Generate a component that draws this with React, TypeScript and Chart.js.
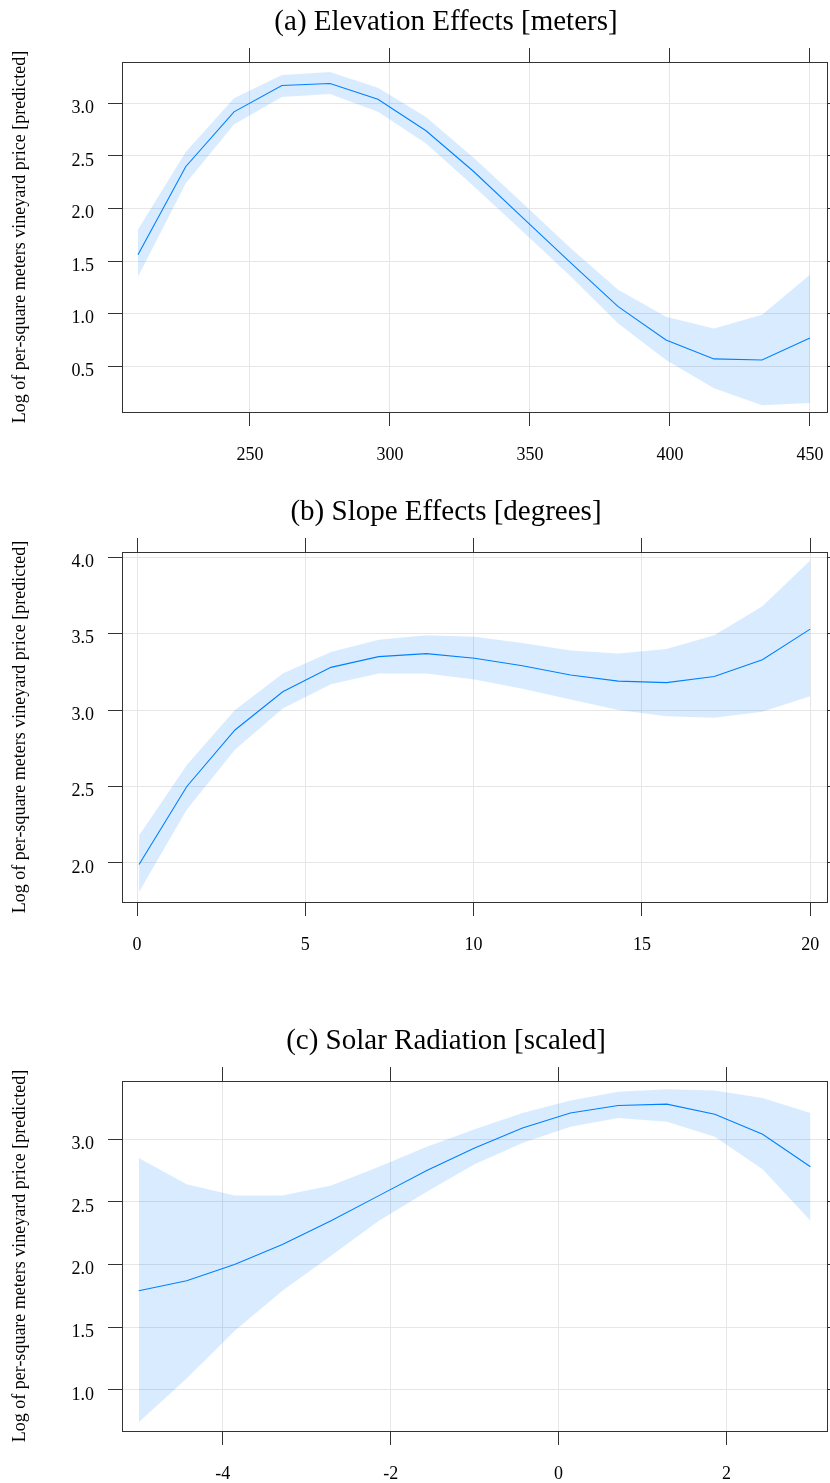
import React, { useEffect, useRef } from "react";
import { Chart, registerables } from "chart.js";

Chart.register(...registerables);

const FONT = "'Liberation Serif', 'Times New Roman', serif";
const Y_LABEL = "Log of per-square meters vineyard price [predicted]";

// (a) Elevation
const elevX = [210.0, 227.1, 244.3, 261.4, 278.6, 295.7, 312.9, 330.0, 347.1, 364.3, 381.4, 398.6, 415.7, 432.9, 450.0];
const elevFit = [1.56, 2.40, 2.92, 3.17, 3.19, 3.04, 2.74, 2.35, 1.92, 1.49, 1.07, 0.75, 0.57, 0.56, 0.77];
const elevUpper = [1.80, 2.54, 3.05, 3.27, 3.30, 3.15, 2.87, 2.48, 2.06, 1.63, 1.23, 0.97, 0.86, 0.99, 1.37];
const elevLower = [1.35, 2.24, 2.80, 3.06, 3.09, 2.92, 2.62, 2.21, 1.79, 1.36, 0.91, 0.56, 0.29, 0.13, 0.15];
const elevXTicks = [250, 300, 350, 400, 450];
const elevYTicks = [0.5, 1.0, 1.5, 2.0, 2.5, 3.0];

// (b) Slope
const slopeX = [0.06, 1.48, 2.91, 4.33, 5.76, 7.18, 8.6, 10.03, 11.45, 12.88, 14.3, 15.73, 17.15, 18.58, 20.0];
const slopeFit = [1.99, 2.50, 2.87, 3.12, 3.28, 3.35, 3.37, 3.34, 3.29, 3.23, 3.19, 3.18, 3.22, 3.33, 3.53];
const slopeUpper = [2.18, 2.64, 3.00, 3.24, 3.38, 3.46, 3.49, 3.48, 3.44, 3.39, 3.37, 3.40, 3.49, 3.68, 3.98];
const slopeLower = [1.81, 2.35, 2.74, 3.01, 3.17, 3.24, 3.24, 3.20, 3.14, 3.07, 3.00, 2.96, 2.95, 2.99, 3.09];
const slopeXTicks = [0, 5, 10, 15, 20];
const slopeYTicks = [2.0, 2.5, 3.0, 3.5, 4.0];

// (c) Solar radiation
const solarX = [-5.0, -4.43, -3.86, -3.29, -2.71, -2.14, -1.57, -1.0, -0.43, 0.14, 0.71, 1.29, 1.86, 2.43, 3.0];
const solarFit = [1.79, 1.87, 2.00, 2.16, 2.35, 2.55, 2.75, 2.93, 3.09, 3.21, 3.27, 3.28, 3.20, 3.04, 2.78];
const solarUpper = [2.85, 2.64, 2.55, 2.55, 2.63, 2.78, 2.94, 3.08, 3.21, 3.31, 3.38, 3.40, 3.39, 3.33, 3.21];
const solarLower = [0.74, 1.09, 1.47, 1.79, 2.07, 2.35, 2.58, 2.80, 2.97, 3.10, 3.17, 3.14, 3.02, 2.76, 2.35];
const solarXTicks = [-4, -2, 0, 2];
const solarYTicks = [1.0, 1.5, 2.0, 2.5, 3.0];

const CANVAS_W = 830;
const CANVAS_H = 464;
const AREA_TOP = 62;
const AREA_BOTTOM = 412;
const AREA_LEFT = 122;
const AREA_RIGHT = 827;

const LINE_COLOR = "#0080ff";
const BAND_COLOR = "rgba(0,128,255,0.15)";
const GRID_COLOR = "#e6e6e6";
const AXIS_COLOR = "#333333";

type PanelProps = {
  top: number;
  title: string;
  xs: number[];
  fit: number[];
  upper: number[];
  lower: number[];
  xTicks: number[];
  yTicks: number[];
  xMin: number;
  xMax: number;
  yMin: number;
  yMax: number;
};

function Panel(p: PanelProps) {
  const ref = useRef<HTMLCanvasElement | null>(null);
  useEffect(() => {
    if (!ref.current) return;
    const pts = (ys: number[]) => p.xs.map((x, i) => ({ x, y: ys[i] }));
    const setX = (s: any) => {
      s.ticks = p.xTicks.map((v) => ({ value: v }));
    };
    const setY = (s: any) => {
      s.ticks = p.yTicks.map((v) => ({ value: v }));
    };
    const noPad = (s: any) => {
      s.paddingLeft = 0;
      s.paddingRight = 0;
      s.paddingTop = 0;
      s.paddingBottom = 0;
    };
    const chart = new Chart(ref.current, {
      type: "line",
      data: {
        datasets: [
          {
            data: pts(p.lower),
            borderColor: "rgba(0,0,0,0)",
            borderWidth: 0,
            pointRadius: 0,
            fill: false,
            xAxisID: "x",
            yAxisID: "y",
          },
          {
            data: pts(p.upper),
            borderColor: "rgba(0,0,0,0)",
            borderWidth: 0,
            pointRadius: 0,
            backgroundColor: BAND_COLOR,
            fill: "-1",
            xAxisID: "x",
            yAxisID: "y",
          },
          {
            data: pts(p.fit),
            borderColor: LINE_COLOR,
            borderWidth: 1.1,
            pointRadius: 0,
            fill: false,
            xAxisID: "x",
            yAxisID: "y",
          },
        ],
      },
      options: {
        animation: false,
        responsive: false,
        maintainAspectRatio: false,
        devicePixelRatio: 1,
        layout: { padding: 0 },
        plugins: {
          legend: { display: false },
          tooltip: { enabled: false },
          title: { display: false },
        },
        elements: { point: { radius: 0 }, line: { tension: 0 } },
        scales: {
          x: {
            type: "linear",
            axis: "x",
            position: "bottom",
            min: p.xMin,
            max: p.xMax,
            afterBuildTicks: setX,
            afterFit: (s: any) => {
              s.height = CANVAS_H - AREA_BOTTOM;
              noPad(s);
            },
            grid: {
              color: GRID_COLOR,
              lineWidth: 1,
              drawTicks: true,
              tickLength: 14,
              tickColor: AXIS_COLOR,
            },
            border: { display: true, color: AXIS_COLOR, width: 1 },
            ticks: {
              font: { family: FONT, size: 18 },
              color: "#000",
              padding: 18,
              maxRotation: 0,
              autoSkip: false,
              callback: (v: any) => String(v),
            },
          },
          x2: {
            type: "linear",
            axis: "x",
            position: "top",
            min: p.xMin,
            max: p.xMax,
            afterBuildTicks: setX,
            afterFit: (s: any) => {
              s.height = AREA_TOP;
              noPad(s);
            },
            grid: {
              drawOnChartArea: false,
              drawTicks: true,
              tickLength: 14,
              tickColor: AXIS_COLOR,
            },
            border: { display: true, color: AXIS_COLOR, width: 1 },
            ticks: { display: false },
          },
          y: {
            type: "linear",
            axis: "y",
            position: "left",
            min: p.yMin,
            max: p.yMax,
            afterBuildTicks: setY,
            afterFit: (s: any) => {
              s.width = AREA_LEFT;
              noPad(s);
            },
            grid: {
              color: GRID_COLOR,
              lineWidth: 1,
              drawTicks: true,
              tickLength: 14,
              tickColor: AXIS_COLOR,
            },
            border: { display: true, color: AXIS_COLOR, width: 1 },
            ticks: {
              font: { family: FONT, size: 18 },
              color: "#000",
              padding: 14,
              labelOffset: 5,
              autoSkip: false,
              callback: (v: any) => Number(v).toFixed(1),
            },
            title: {
              display: true,
              text: Y_LABEL,
              font: { family: FONT, size: 18 },
              color: "#000",
              padding: { top: 9, bottom: 0 },
            },
          },
          y2: {
            type: "linear",
            axis: "y",
            position: "right",
            min: p.yMin,
            max: p.yMax,
            afterBuildTicks: setY,
            afterFit: (s: any) => {
              s.width = CANVAS_W - AREA_RIGHT;
              noPad(s);
            },
            grid: {
              drawOnChartArea: false,
              drawTicks: true,
              tickLength: 14,
              tickColor: AXIS_COLOR,
            },
            border: { display: true, color: AXIS_COLOR, width: 1 },
            ticks: { display: false },
          },
        },
      } as any,
    });
    return () => chart.destroy();
  }, []);

  return (
    <div style={{ position: "absolute", left: 0, top: p.top, width: CANVAS_W, height: CANVAS_H }}>
      <canvas
        ref={ref}
        width={CANVAS_W}
        height={CANVAS_H}
        style={{ position: "absolute", left: 0, top: 0, width: CANVAS_W, height: CANVAS_H }}
      />
      <div
        style={{
          position: "absolute",
          left: 0,
          top: 6,
          width: 892,
          textAlign: "center",
          fontFamily: FONT,
          fontSize: 29,
          lineHeight: "29px",
          color: "#000",
          whiteSpace: "nowrap",
        }}
      >
        {p.title}
      </div>
    </div>
  );
}

export default function App() {
  return (
    <div
      style={{
        position: "absolute",
        left: 0,
        top: 0,
        width: 830,
        height: 1483,
        background: "#fff",
        overflow: "hidden",
      }}
    >
      <Panel
        top={0}
        title="(a) Elevation Effects [meters]"
        xs={elevX}
        fit={elevFit}
        upper={elevUpper}
        lower={elevLower}
        xTicks={elevXTicks}
        yTicks={elevYTicks}
        xMin={204.3}
        xMax={456.1}
        yMin={0.065}
        yMax={3.394}
      />
      <Panel
        top={490}
        title="(b) Slope Effects [degrees]"
        xs={slopeX}
        fit={slopeFit}
        upper={slopeUpper}
        lower={slopeLower}
        xTicks={slopeXTicks}
        yTicks={slopeYTicks}
        xMin={-0.446}
        xMax={20.5}
        yMin={1.744}
        yMax={4.035}
      />
      <Panel
        top={1019}
        title="(c) Solar Radiation [scaled]"
        xs={solarX}
        fit={solarFit}
        upper={solarUpper}
        lower={solarLower}
        xTicks={solarXTicks}
        yTicks={solarYTicks}
        xMin={-5.2}
        xMax={3.197}
        yMin={0.671}
        yMax={3.465}
      />
    </div>
  );
}
